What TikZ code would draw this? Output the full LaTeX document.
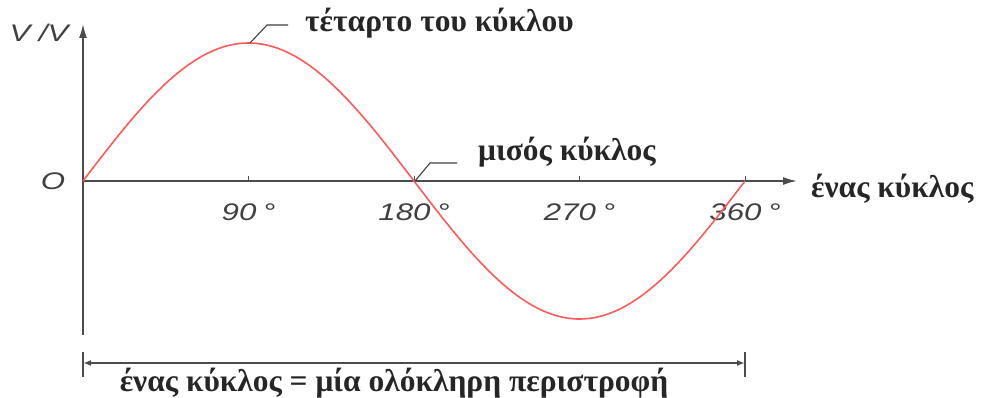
\documentclass[tikz,border=0pt]{standalone}
\usepackage{fontspec}
\setmainfont{Liberation Serif}
\setsansfont{Liberation Sans}
\usetikzlibrary{arrows.meta}

\begin{document}
\begin{tikzpicture}[x=1pt, y=-1pt,
  axis/.style={draw=black!70, line width=1.6pt},
  curve/.style={draw=red!65, line width=1.6pt},
  lead/.style={draw=black!75, line width=1.1pt},
  greek/.style={font=\bfseries\fontsize{31.5}{35}\selectfont, inner sep=0pt, text=black!85},
  num/.style={font=\sffamily\itshape\fontsize{24}{28}\selectfont, xscale=1.3, inner sep=0pt, text=black!75}]
  \useasboundingbox (0,0) rectangle (983,398);
  % axes
  \coordinate (O) at (83,181);
  \draw[axis, -{Latex[length=14pt,width=8pt]}] (83,335) -- (83,24);
  \draw[axis, -{Latex[length=14pt,width=8pt]}] (O) -- (797,181);
  \node[num, xscale=1] (zero) at (53,181) {O};
  \node[num, xscale=1] (unit) at (39,33) {V /V};
  % ticks and degrees
  \foreach \a in {90,180,270,360} {
    \draw[axis, line width=1pt] ({83+\a/360*662},176) -- ({83+\a/360*662},181);
    \node[num] (deg\a) at ({83+\a/360*662},212) {\a\hspace{5pt}°};
  }
  % the sine
  \draw[curve] plot[domain=0:360, samples=120, smooth] ({83+\x/360*662},{181-138*sin(\x)});
  % labels with leaders
  \node[greek, anchor=west] (quarter) at (305,23) {τέταρτο του κύκλου};
  \node[greek, anchor=west] (half) at (478,152) {μισός κύκλος};
  \node[greek, anchor=west] (cycle) at (811,189) {ένας κύκλος};
  \coordinate (peak) at (250,43);
  \coordinate (cross) at (415,181);
  \draw[lead] (peak) -- ++(17,-18) -- ([xshift=-17pt]quarter.west |- 0,25);
  \draw[lead] (cross) -- ++(15,-18) -- ([xshift=-21pt]half.west |- 0,163);
  % one full turn
  \coordinate (dimL) at (83,363);
  \coordinate (dimR) at (745,363);
  \draw[axis, line width=1.2pt] (83,352) -- (83,377);
  \draw[axis, line width=1.2pt] (745,352) -- (745,377);
  \draw[axis, line width=2pt, {Latex[length=8pt]}-{Latex[length=8pt]}] (dimL) -- (dimR);
  \node[greek] (whole) at (394,383) {ένας κύκλος = μία ολόκληρη περιστροφή};
\end{tikzpicture}
\end{document}
